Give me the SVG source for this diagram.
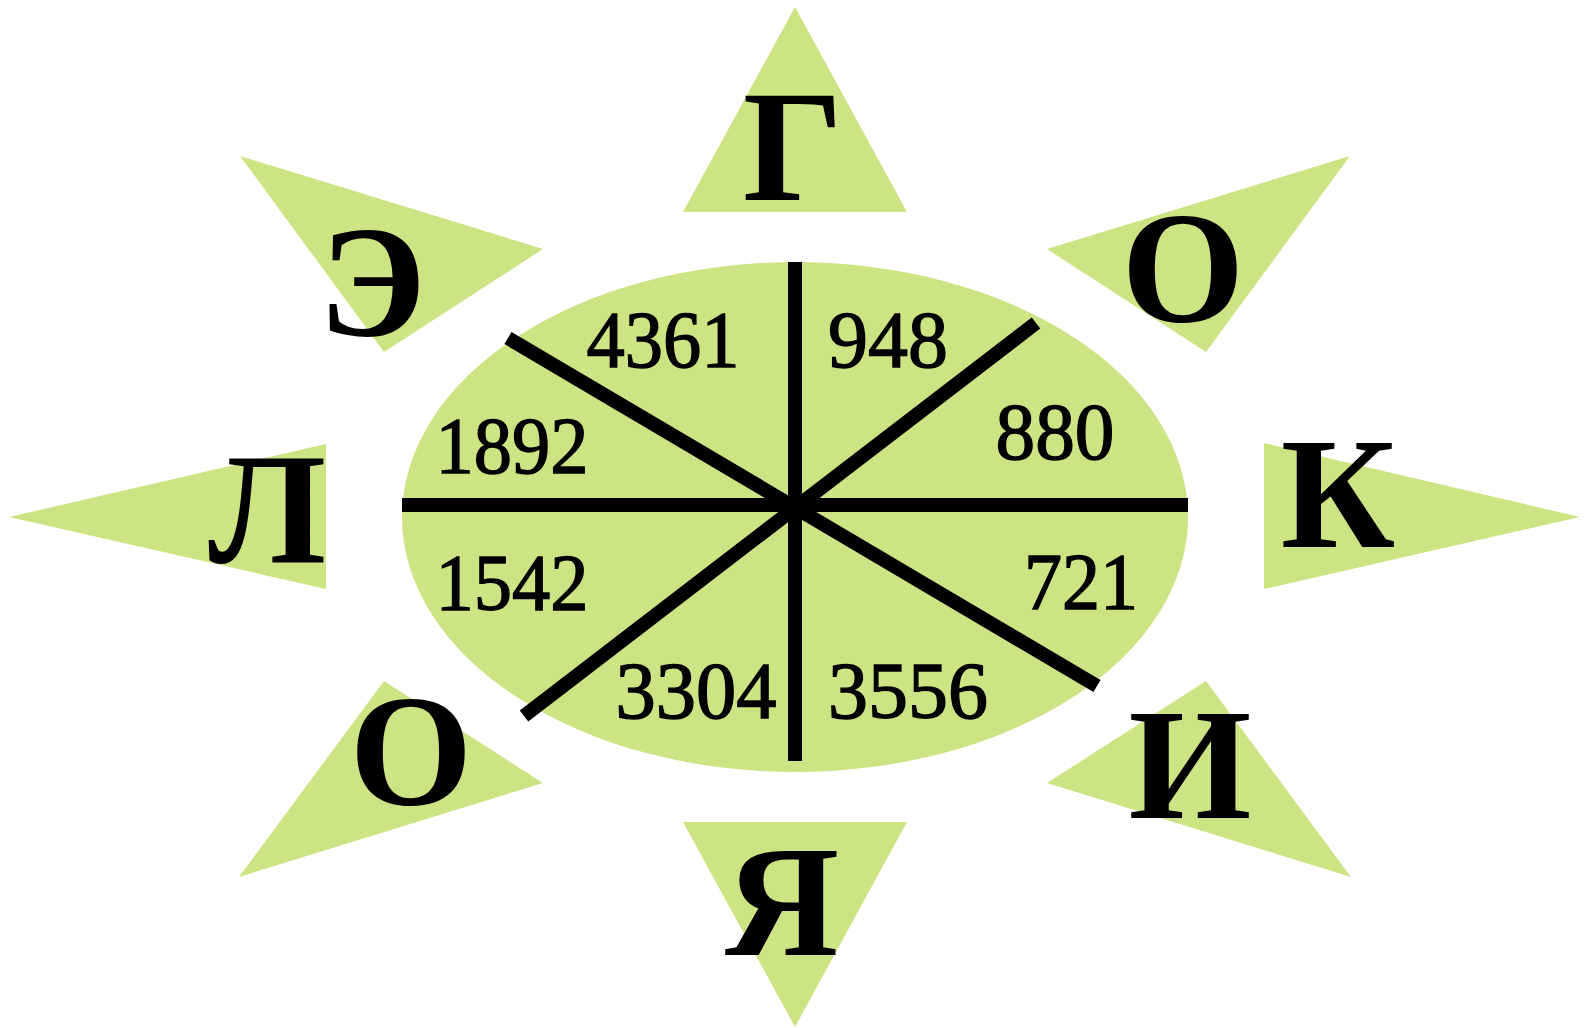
<svg xmlns="http://www.w3.org/2000/svg" width="1588" height="1028" viewBox="0 0 1588 1028">
<style>
.tri{fill:#cde484}
.let{font-family:"Liberation Serif",serif;font-weight:bold;font-size:158px;fill:#000;text-anchor:middle}
.num{font-family:"Liberation Serif",serif;font-size:81px;fill:#000;stroke:#000;stroke-width:1.4;text-anchor:middle}
.ln{stroke:#000;stroke-width:14;fill:none}
</style>
<rect width="1588" height="1028" fill="#fff"/>
<g id="rays">
<polygon class="tri" points="795,7 683,212 907,212"/>
<polygon class="tri" points="795,1027 683,822 907,822"/>
<polygon class="tri" points="240,156 543,249 384,352"/>
<polygon class="tri" points="1350,156 1047,249 1206,352"/>
<polygon class="tri" points="9,517 326,444 326,589"/>
<polygon class="tri" points="1580,517 1264,443 1264,589"/>
<polygon class="tri" points="239,877 384,681 543,783"/>
<polygon class="tri" points="1351,877 1206,681 1047,783"/>
</g>
<g id="wheel">
<ellipse cx="795" cy="517" rx="393" ry="255" fill="#cde484"/>
</g>
<g id="connectors">
<line class="ln" x1="795" y1="262" x2="795" y2="761"/>
<line class="ln" x1="402" y1="505" x2="1188" y2="505"/>
<line class="ln" x1="508" y1="338" x2="1097" y2="686"/>
<line class="ln" x1="1036" y1="323" x2="524" y2="716"/>
</g>
<g id="numbers">
<text class="num" x="663" y="367" textLength="153" lengthAdjust="spacingAndGlyphs">4361</text>
<text class="num" x="888" y="367" textLength="120" lengthAdjust="spacingAndGlyphs">948</text>
<text class="num" x="512" y="473" textLength="153" lengthAdjust="spacingAndGlyphs">1892</text>
<text class="num" x="1055" y="459" textLength="119" lengthAdjust="spacingAndGlyphs">880</text>
<text class="num" x="512" y="610" textLength="153" lengthAdjust="spacingAndGlyphs">1542</text>
<text class="num" x="1081" y="609" textLength="114" lengthAdjust="spacingAndGlyphs">721</text>
<text class="num" x="696" y="718" textLength="161" lengthAdjust="spacingAndGlyphs">3304</text>
<text class="num" x="908" y="718" textLength="160" lengthAdjust="spacingAndGlyphs">3556</text>
</g>
<g id="n-g"><text class="let" x="793" y="200">Г</text></g>
<g id="n-o1"><text class="let" x="1183" y="321">О</text></g>
<g id="n-k"><text class="let" x="1338" y="547">К</text></g>
<g id="n-i"><text class="let" x="1190" y="818">И</text></g>
<g id="n-ya"><text class="let" x="782" y="955">Я</text></g>
<g id="n-o2"><text class="let" x="411" y="804">О</text></g>
<g id="n-l"><text class="let" x="267" y="562">Л</text></g>
<g id="n-e"><text class="let" x="372" y="335" font-size="165">Э</text></g>
</svg>
